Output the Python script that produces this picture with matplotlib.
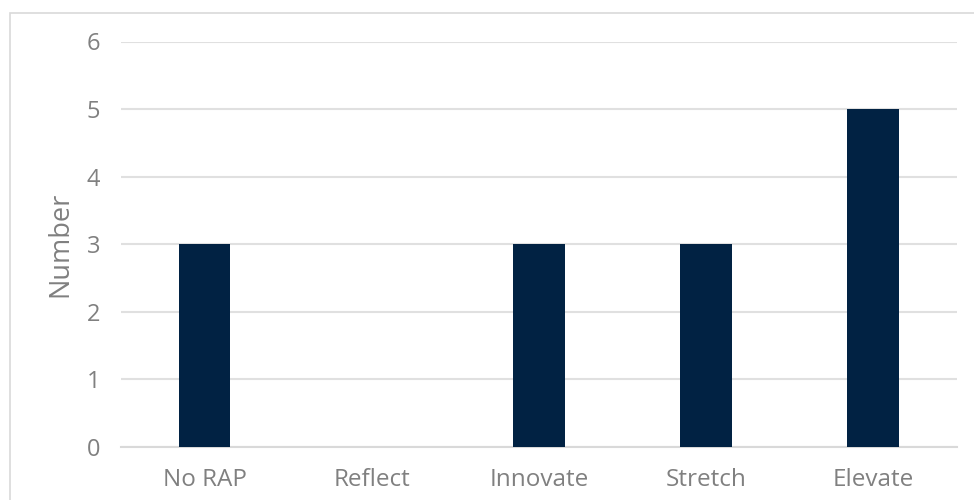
import matplotlib.pyplot as plt
from matplotlib.patches import Rectangle

categories = ["No RAP", "Reflect", "Innovate", "Stretch", "Elevate"]
counts = [3, 0, 3, 3, 5]
yticks = [0, 1, 2, 3, 4, 5, 6]

plt.rcParams["font.family"] = ["Open Sans", "DejaVu Sans"]

fig = plt.figure(figsize=(9.74, 5), dpi=100)
ax = fig.add_axes([0.1242, 0.106, 0.8583, 0.811])

# outer chart frame (only top/left fall inside the canvas)
fig.patches.append(Rectangle((9.5 / 974, -0.1), 1.2, 1 - 12.5 / 500 + 0.1,
                             transform=fig.transFigure, fill=False,
                             edgecolor="#d9d9d9", linewidth=1.2))

ax.bar(range(len(categories)), counts, width=0.31, color="#012243", zorder=3)

ax.set_xlim(-0.5, len(categories) - 0.5)
ax.set_ylim(0, 6)
ax.set_yticks(yticks)
ax.set_xticks(range(len(categories)))
ax.set_xticklabels(categories)
ax.grid(axis="y", color="#e0e0e0", linewidth=1.5, zorder=0)
for side in ["top", "right", "left"]:
    ax.spines[side].set_visible(False)
ax.spines["bottom"].set_color("#d9d9d9")
ax.spines["bottom"].set_linewidth(1.5)
ax.tick_params(axis="y", length=0, pad=15, labelsize=17, labelcolor="#808080")
ax.tick_params(axis="x", length=0, pad=15, labelsize=17.5, labelcolor="#808080")
ax.set_ylabel("Number", fontsize=19.5, color="#808080", labelpad=9)

fig.savefig("out.png", dpi=100)
